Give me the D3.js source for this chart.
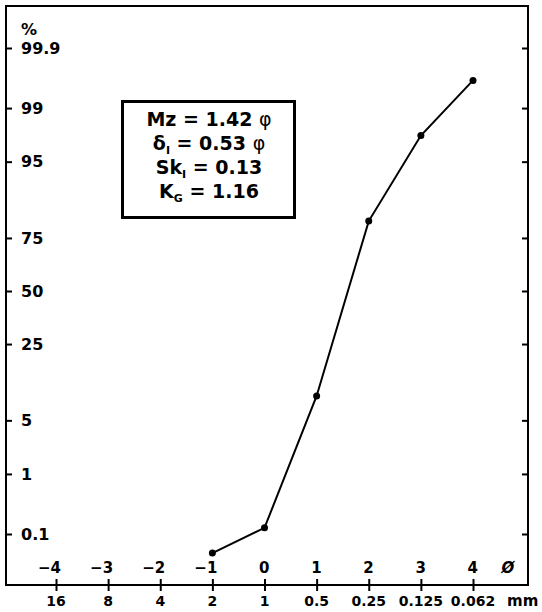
<!DOCTYPE html>
<html lang="en">
	<head>
		<meta charset="utf-8" />
		<title>Cumulative grain size curve</title>
		<script type="text/javascript" src="https://cdn.jsdelivr.net/npm/d3@7/dist/d3.min.js"></script>
		<style type="text/css">
			body { margin: 0; background: #fff; }
			text { font-family: "DejaVu Sans", sans-serif; font-weight: bold; fill: #000; }
			.axis path { display: none; }
			.axis line { stroke: #000; stroke-width: 2; }
		</style>
	</head>
	<body>
		<script type="text/javascript">
			//Sieve classes (phi) and the matching sizes in mm
			var phiTicks = [-4, -3, -2, -1, 0, 1, 2, 3, 4];
			var mmLabels = ["16", "8", "4", "2", "1", "0.5", "0.25", "0.125", "0.062"];
			//Probability axis labels (%)
			var pctTicks = [0.1, 1, 5, 25, 50, 75, 95, 99, 99.9];
			//Cumulative weight percent
			var phiValues = [-1, 0, 1, 2, 3, 4];
			var cumPercent = [0.043, 0.13, 9.1, 81.3, 97.6, 99.63];
			//Folk & Ward parameters
			var statLines = [
				{ main: "Mz", sub: "", rest: " = 1.42 ", phi: true },
				{ main: "δ", sub: "I", rest: " = 0.53 ", phi: true },
				{ main: "Sk", sub: "I", rest: " = 0.13", phi: false },
				{ main: "K", sub: "G", rest: " = 1.16", phi: false }
			];

			var w = 542;
			var h = 612;
			var frameL = 6, frameR = 528, frameT = 6, frameB = 585;

			//inverse normal cdf (Acklam) for the probability scale
			function probit(p) {
				var a = [-39.6968302866538, 220.946098424521, -275.928510446969, 138.357751867269, -30.6647980661472, 2.50662827745924];
				var b = [-54.4760987982241, 161.585836858041, -155.698979859887, 66.8013118877197, -13.2806815528857];
				var c = [-0.00778489400243029, -0.322396458041136, -2.40075827716184, -2.54973253934373, 4.37466414146497, 2.93816398269878];
				var d = [0.00778469570904146, 0.32246712907004, 2.445134137143, 3.75440866190742];
				var q, r;
				if (p < 0.02425) {
					q = Math.sqrt(-2 * Math.log(p));
					return (((((c[0] * q + c[1]) * q + c[2]) * q + c[3]) * q + c[4]) * q + c[5]) /
						((((d[0] * q + d[1]) * q + d[2]) * q + d[3]) * q + 1);
				}
				if (p > 1 - 0.02425) {
					q = Math.sqrt(-2 * Math.log(1 - p));
					return -(((((c[0] * q + c[1]) * q + c[2]) * q + c[3]) * q + c[4]) * q + c[5]) /
						((((d[0] * q + d[1]) * q + d[2]) * q + d[3]) * q + 1);
				}
				q = p - 0.5;
				r = q * q;
				return (((((a[0] * r + a[1]) * r + a[2]) * r + a[3]) * r + a[4]) * r + a[5]) * q /
					(((((b[0] * r + b[1]) * r + b[2]) * r + b[3]) * r + b[4]) * r + 1);
			}

			var xScale = d3.scaleLinear().domain([-4, 4]).range([56, 473]);
			var zScale = d3.scaleLinear().domain([probit(0.001), probit(0.999)]).range([534, 48]);
			function yScale(pct) {
				return zScale(probit(pct / 100));
			}

			var svg = d3.select("body")
				.append("svg")
				.attr("width", w)
				.attr("height", h);

			//Frame
			svg.append("rect")
				.attr("x", frameL)
				.attr("y", frameT)
				.attr("width", frameR - frameL)
				.attr("height", frameB - frameT)
				.attr("fill", "none")
				.attr("stroke", "#000")
				.attr("stroke-width", 2);

			//Left and right ticks, pointing inward
			var zTicks = pctTicks.map(function(p) { return probit(p / 100); });
			svg.append("g")
				.attr("class", "axis")
				.attr("transform", "translate(" + frameL + ",0)")
				.call(d3.axisRight(zScale).tickValues(zTicks).tickSize(6).tickFormat(""));
			svg.append("g")
				.attr("class", "axis")
				.attr("transform", "translate(" + frameR + ",0)")
				.call(d3.axisLeft(zScale).tickValues(zTicks).tickSize(6).tickFormat(""));

			//Y labels
			svg.append("g")
				.selectAll("text")
				.data(pctTicks)
				.enter()
				.append("text")
				.attr("x", 21)
				.attr("y", function(d) { return yScale(d); })
				.attr("dy", "0.36em")
				.attr("font-size", 16)
				.text(function(d) { return d; });
			svg.append("text")
				.attr("x", 21)
				.attr("y", 35)
				.attr("font-size", 16)
				.text("%");

			//Bottom ticks crossing the axis line
			var xAxis = d3.axisBottom(xScale)
				.tickValues(phiTicks)
				.tickSize(12)
				.tickFormat("");
			svg.append("g")
				.attr("class", "axis")
				.attr("transform", "translate(0," + (frameB - 6) + ")")
				.call(xAxis);

			//phi labels above, mm labels below
			svg.append("g")
				.selectAll("text")
				.data(phiTicks)
				.enter()
				.append("text")
				.attr("x", function(d) { return xScale(d) + 5; })
				.attr("y", 573)
				.attr("text-anchor", "end")
				.attr("font-size", 15)
				.text(function(d) { return d < 0 ? "\u2212" + Math.abs(d) : d; });
			svg.append("text")
				.attr("x", 508)
				.attr("y", 573)
				.attr("text-anchor", "middle")
				.attr("font-size", 15)
				.attr("font-weight", "normal")
				.attr("font-style", "italic")
				.text("Ø");

			svg.append("g")
				.selectAll("text")
				.data(mmLabels)
				.enter()
				.append("text")
				.attr("x", function(d, i) { return xScale(phiTicks[i]); })
				.attr("y", 606)
				.attr("text-anchor", "middle")
				.attr("font-size", 14)
				.text(function(d) { return d; });
			svg.append("text")
				.attr("x", 507)
				.attr("y", 606)
				.attr("font-size", 15)
				.attr("font-weight", "normal")
				.text("mm");

			//Curve
			var points = phiValues.map(function(d, i) { return [d, cumPercent[i]]; });
			var line = d3.line()
				.x(function(d) { return xScale(d[0]); })
				.y(function(d) { return yScale(d[1]); });
			svg.append("path")
				.datum(points)
				.attr("d", line)
				.attr("fill", "none")
				.attr("stroke", "#000")
				.attr("stroke-width", 2);
			svg.append("g")
				.selectAll("circle")
				.data(points)
				.enter()
				.append("circle")
				.attr("cx", function(d) { return xScale(d[0]); })
				.attr("cy", function(d) { return yScale(d[1]); })
				.attr("r", 3.5)
				.attr("fill", "#000");

			//Statistics box
			svg.append("rect")
				.attr("x", 122.5)
				.attr("y", 101.5)
				.attr("width", 172)
				.attr("height", 116)
				.attr("fill", "#fff")
				.attr("stroke", "#000")
				.attr("stroke-width", 3);
			var stat = svg.append("g")
				.selectAll("text")
				.data(statLines)
				.enter()
				.append("text")
				.attr("x", 209)
				.attr("y", function(d, i) { return 126 + i * 24; })
				.attr("text-anchor", "middle")
				.attr("font-size", 19);
			stat.append("tspan").text(function(d) { return d.main; });
			stat.append("tspan")
				.attr("font-size", 11)
				.attr("dy", 4)
				.text(function(d) { return d.sub; });
			stat.append("tspan")
				.attr("dy", function(d) { return d.sub ? -4 : 0; })
				.text(function(d) { return d.rest; });
			stat.filter(function(d) { return d.phi; })
				.append("tspan")
				.attr("font-weight", "normal")
				.attr("fill", "#000")
				.text("φ");
		</script>
	</body>
</html>
